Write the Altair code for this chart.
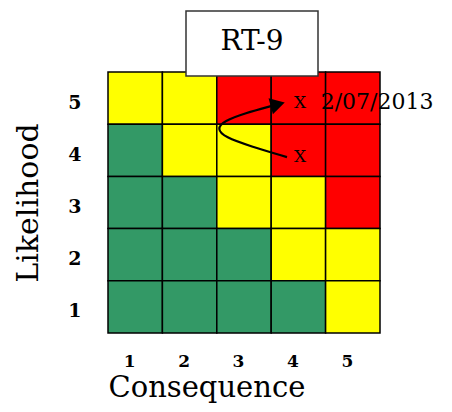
import altair as alt
import pandas as pd

# ---- data ----
consequence = [1, 2, 3, 4, 5]
likelihood = [5, 4, 3, 2, 1]
# rating per likelihood row (top row = 5) across consequence 1..5
ratings = [
    ["Y", "Y", "R", "R", "R"],
    ["G", "Y", "Y", "R", "R"],
    ["G", "G", "Y", "Y", "R"],
    ["G", "G", "G", "Y", "Y"],
    ["G", "G", "G", "G", "Y"],
]
rating_codes = ["G", "Y", "R"]
rating_colors = ["#339966", "#FFFF00", "#FF0000"]

# movement curve (consequence, likelihood coordinates)
curve_x = [3.79, 3.11, 2.65, 2.50, 2.63, 3.02, 3.51]
curve_y = [3.87, 4.08, 4.25, 4.41, 4.56, 4.71, 4.85]
arrow_x = [3.62]
arrow_y = [4.88]

marker_x = [4.03, 4.03]
marker_y = [4.91, 3.87]
marker_text = ["X", "X"]

date_x = [4.41]
date_y = [4.93]
date_text = ["2/07/2013"]

title_text = "RT-9"

# ---- tables ----
cells = []
for r, lk in enumerate(likelihood):
    for c, cq in enumerate(consequence):
        cells.append({"c": cq, "c0": cq - 0.5, "c1": cq + 0.5,
                      "l": lk, "l0": lk - 0.5, "l1": lk + 0.5,
                      "rating": ratings[r][c]})
cells = pd.DataFrame(cells)
curve = pd.DataFrame({"x": curve_x, "y": curve_y, "o": list(range(len(curve_x)))})
arrow = pd.DataFrame({"x": arrow_x, "y": arrow_y})
markers = pd.DataFrame({"x": marker_x, "y": marker_y, "t": marker_text})
date = pd.DataFrame({"x": date_x, "y": date_y, "t": date_text})

FONT = "DejaVu Serif"
xs = alt.Scale(domain=[0.5, 5.5], nice=False, zero=False)
ys = alt.Scale(domain=[0.5, 5.5], nice=False, zero=False)

grid = alt.Chart(cells).mark_rect(stroke="black", strokeWidth=1.5).encode(
    x=alt.X("c0:Q", scale=xs,
            axis=alt.Axis(values=consequence, title="Consequence", format="d",
                          domain=False, ticks=False, grid=False,
                          labelFont=FONT, labelFontSize=17, labelFontWeight="bold",
                          labelColor="black", labelPadding=20, labelOffset=-6,
                          titleFont=FONT, titleFontSize=29, titleFontWeight="normal",
                          titleColor="black", titleAnchor="start", titleAlign="left",
                          titlePadding=4)),
    x2="c1:Q",
    y=alt.Y("l0:Q", scale=ys,
            axis=alt.Axis(values=likelihood, title="Likelihood", format="d",
                          domain=False, ticks=False, grid=False,
                          labelFont=FONT, labelFontSize=19, labelFontWeight="bold",
                          labelColor="black", labelPadding=27, labelOffset=4,
                          titleFont=FONT, titleFontSize=30, titleFontWeight="normal",
                          titleColor="black", titlePadding=24)),
    y2="l1:Q",
    color=alt.Color("rating:N", scale=alt.Scale(domain=rating_codes, range=rating_colors),
                    legend=None),
)

line = alt.Chart(curve).mark_line(color="black", strokeWidth=2.2, interpolate="basis").encode(
    x=alt.X("x:Q", scale=xs), y=alt.Y("y:Q", scale=ys), order="o:Q")

head = alt.Chart(arrow).mark_point(shape="triangle-right", filled=True, color="black",
                                   size=280, angle=345, opacity=1).encode(
    x=alt.X("x:Q", scale=xs), y=alt.Y("y:Q", scale=ys))

mk = alt.Chart(markers).mark_text(font=FONT, fontSize=17, color="black",
                                  baseline="middle", align="center").encode(
    x=alt.X("x:Q", scale=xs), y=alt.Y("y:Q", scale=ys), text="t:N")

dt = alt.Chart(date).mark_text(font=FONT, fontSize=22, color="black",
                               baseline="middle", align="left").encode(
    x=alt.X("x:Q", scale=xs), y=alt.Y("y:Q", scale=ys), text="t:N")

box = alt.Chart(date).mark_rect(fill="white", stroke="#333333", strokeWidth=1.5).encode(
    x=alt.value(78), x2=alt.value(210), y=alt.value(-61), y2=alt.value(4))

box_text = alt.Chart(date).mark_text(font=FONT, fontSize=28, color="black",
                                     baseline="middle", align="center").encode(
    x=alt.value(144), y=alt.value(-30), text=alt.value(title_text))

chart = alt.layer(grid, line, head, mk, dt, box, box_text).properties(
    width=272, height=261,
    autosize=alt.AutoSizeParams(type="none"),
    padding={"left": 100, "top": 64, "right": 64, "bottom": 71},
    background="white",
).configure_view(stroke=None)

chart.save("out.html", embed_options={"renderer": "svg", "actions": False})
